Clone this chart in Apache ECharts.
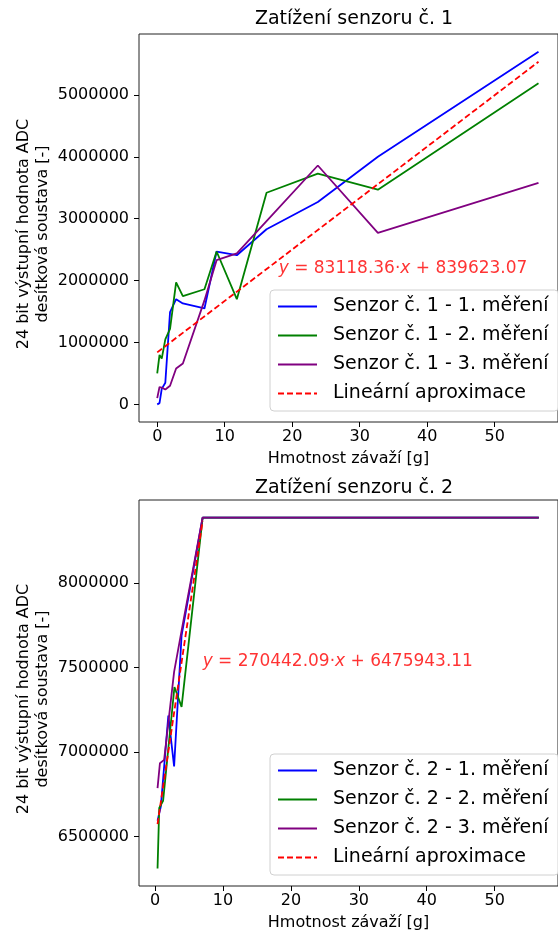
<!DOCTYPE html>
<html>
<head>
<meta charset="utf-8">
<script src="https://cdn.jsdelivr.net/npm/echarts@6/dist/echarts.min.js"></script>
<style>html,body{margin:0;padding:0;background:#fff;}#c{width:558px;height:932px;}</style>
</head>
<body>
<div id="c"></div>
<script>
// ---------- DATA ----------
const TITLE1 = 'Zatížení senzoru č. 1';
const TITLE2 = 'Zatížení senzoru č. 2';
const X_NAME = 'Hmotnost závaží [g]';
const Y_NAME = '24 bit výstupní hodnota ADC\ndesítková soustava [-]';

const X_TICKS = [0, 10, 20, 30, 40, 50];
const Y1_TICKS = [0, 1000000, 2000000, 3000000, 4000000, 5000000];
const Y2_TICKS = [6500000, 7000000, 7500000, 8000000];

const NAMES1 = ['Senzor č. 1 - 1. měření', 'Senzor č. 1 - 2. měření', 'Senzor č. 1 - 3. měření'];
const NAMES2 = ['Senzor č. 2 - 1. měření', 'Senzor č. 2 - 2. měření', 'Senzor č. 2 - 3. měření'];
const FIT_NAME = 'Lineární aproximace';

// Sensor 1
const X1 = [0, 0.34, 0.67, 1.2, 1.9, 2.8, 3.8, 7.0, 8.8, 11.8, 16.2, 23.8, 32.7, 56.5];
const S1_M1 = [0, 20000, 250000, 350000, 1490000, 1700000, 1630000, 1550000, 2470000, 2410000, 2830000, 3270000, 4000000, 5700000];
const S1_M2 = [500000, 800000, 740000, 1050000, 1220000, 1970000, 1750000, 1860000, 2470000, 1700000, 3420000, 3730000, 3470000, 5190000];
const S1_M3 = [100000, 280000, 270000, 240000, 300000, 580000, 660000, 1680000, 2330000, 2440000, 2960000, 3860000, 2770000, 3580000];
const FIT1_X = [0, 56.5];
const FIT1_Y = [840000, 5536000];
const EQ1_POS = [18, 2100000];
const EQ1_TEXT = '{i|y} = 83118.36·{i|x} + 839623.07';

// Sensor 2
const S2_M1_X = [0.36, 0.85, 1.95, 2.8, 3.9, 7.0, 56.5];
const S2_M1 = [6593000, 6678000, 7215000, 6914000, 7690000, 8388607, 8388607];
const S2_M2_X = [0.36, 0.61, 1.18, 2.85, 3.9, 7.0, 56.5];
const S2_M2 = [6310000, 6668000, 6711000, 7385000, 7267000, 8388607, 8388607];
const S2_M3_X = [0.36, 0.71, 1.33, 2.8, 3.95, 7.0, 56.5];
const S2_M3 = [6786000, 6933000, 6953000, 7474000, 7729000, 8388607, 8388607];
const FIT2_X = [0.36, 7.0];
const FIT2_Y = [6573000, 8369000];
const EQ2_POS = [7, 7500000];
const EQ2_TEXT = '{i|y} = 270442.09·{i|x} + 6475943.11';

// ---------- CHART ----------
const FONT = 'DejaVu Sans';
const COLORS = ['#0000ff', '#008000', '#800080'];
const pair = (xs, ys) => xs.map((x, i) => [x, ys[i]]);

function xAxis(gridIndex, min, max) {
  return {
    type: 'value', gridIndex, min, max,
    name: X_NAME, nameLocation: 'middle', nameGap: 29, nameMoveOverlap: false,
    nameTextStyle: { fontFamily: FONT, fontSize: 16, color: '#000' },
    axisLine: { show: false, onZero: false },
    axisTick: { show: true, length: 5, customValues: X_TICKS, lineStyle: { color: '#000' } },
    axisLabel: { customValues: X_TICKS, fontFamily: FONT, fontSize: 16, color: '#000', margin: 7 },
    splitLine: { show: false }
  };
}
function yAxis(gridIndex, min, max, ticks) {
  return {
    type: 'value', gridIndex, min, max,
    name: Y_NAME, nameLocation: 'middle', nameGap: 87, nameRotate: 90, nameMoveOverlap: false,
    nameTextStyle: { fontFamily: FONT, fontSize: 16, color: '#000', lineHeight: 19, padding: [0, 12, 0, 0] },
    axisLine: { show: false, onZero: false },
    axisTick: { show: true, length: 5, customValues: ticks, lineStyle: { color: '#000' } },
    axisLabel: { customValues: ticks, fontFamily: FONT, fontSize: 16, color: '#000', margin: 10,
      formatter: v => String(Math.round(v)) },
    splitLine: { show: false }
  };
}
function lineSeries(name, data, color, xi, dashed) {
  return {
    type: 'line', name, data, xAxisIndex: xi, yAxisIndex: xi,
    symbol: 'none', color,
    lineStyle: { color, width: 1.8, type: dashed ? [6, 3] : 'solid' },
    itemStyle: { color },
    animation: false
  };
}
function eqSeries(pos, text, xi) {
  return {
    type: 'scatter', data: [pos], xAxisIndex: xi, yAxisIndex: xi,
    symbolSize: 0, silent: true, animation: false,
    label: {
      show: true, position: 'right', distance: 0, offset: [0, -6],
      formatter: text, color: '#ff0000', fontFamily: FONT, fontSize: 17,
      rich: { i: { fontStyle: 'italic', color: '#ff0000', fontFamily: FONT, fontSize: 17 } }
    }
  };
}
function legend(top, names) {
  return {
    orient: 'vertical', left: 270, top,
    data: names.concat([FIT_NAME]),
    padding: [7, 10, 8, 7], itemGap: 10, itemWidth: 39, itemHeight: 12,
    itemStyle: { opacity: 0, borderWidth: 0 },
    backgroundColor: 'rgba(255,255,255,0.8)', borderColor: '#d0d0d0', borderWidth: 1, borderRadius: 4,
    textStyle: { fontFamily: FONT, fontSize: 19, color: '#000', padding: [0, 0, 0, 11] },
    selectedMode: false
  };
}

const chart = echarts.init(document.getElementById('c'), null, { renderer: 'canvas' });
chart.setOption({
  animation: false,
  grid: [
    { left: 139, top: 34, width: 430, height: 388, show: true, borderColor: '#222', borderWidth: 1, backgroundColor: 'transparent' },
    { left: 139, top: 500, width: 430, height: 388, show: true, borderColor: '#222', borderWidth: 1, backgroundColor: 'transparent' }
  ],
  xAxis: [xAxis(0, -2.70, 59.39), xAxis(1, -2.37, 59.33)],
  yAxis: [yAxis(0, -285000, 5985000, Y1_TICKS), yAxis(1, 6206000, 8492500, Y2_TICKS)],
  legend: [legend(290, NAMES1), legend(754, NAMES2)],
  graphic: [
    { type: 'text', x: 354, y: 19, style: { text: TITLE1, fontFamily: FONT, fontSize: 19, fill: '#000', textAlign: 'center', textVerticalAlign: 'middle' } },
    { type: 'text', x: 354, y: 488, style: { text: TITLE2, fontFamily: FONT, fontSize: 19, fill: '#000', textAlign: 'center', textVerticalAlign: 'middle' } }
  ],
  series: [
    lineSeries(NAMES1[0], pair(X1, S1_M1), COLORS[0], 0),
    lineSeries(NAMES1[1], pair(X1, S1_M2), COLORS[1], 0),
    lineSeries(NAMES1[2], pair(X1, S1_M3), COLORS[2], 0),
    lineSeries(FIT_NAME, pair(FIT1_X, FIT1_Y), '#ff0000', 0, true),
    eqSeries(EQ1_POS, EQ1_TEXT, 0),
    lineSeries(NAMES2[0], pair(S2_M1_X, S2_M1), COLORS[0], 1),
    lineSeries(NAMES2[1], pair(S2_M2_X, S2_M2), COLORS[1], 1),
    lineSeries(NAMES2[2], pair(S2_M3_X, S2_M3), COLORS[2], 1),
    lineSeries(FIT_NAME, pair(FIT2_X, FIT2_Y), '#ff0000', 1, true),
    eqSeries(EQ2_POS, EQ2_TEXT, 1)
  ]
});
</script>
</body>
</html>
